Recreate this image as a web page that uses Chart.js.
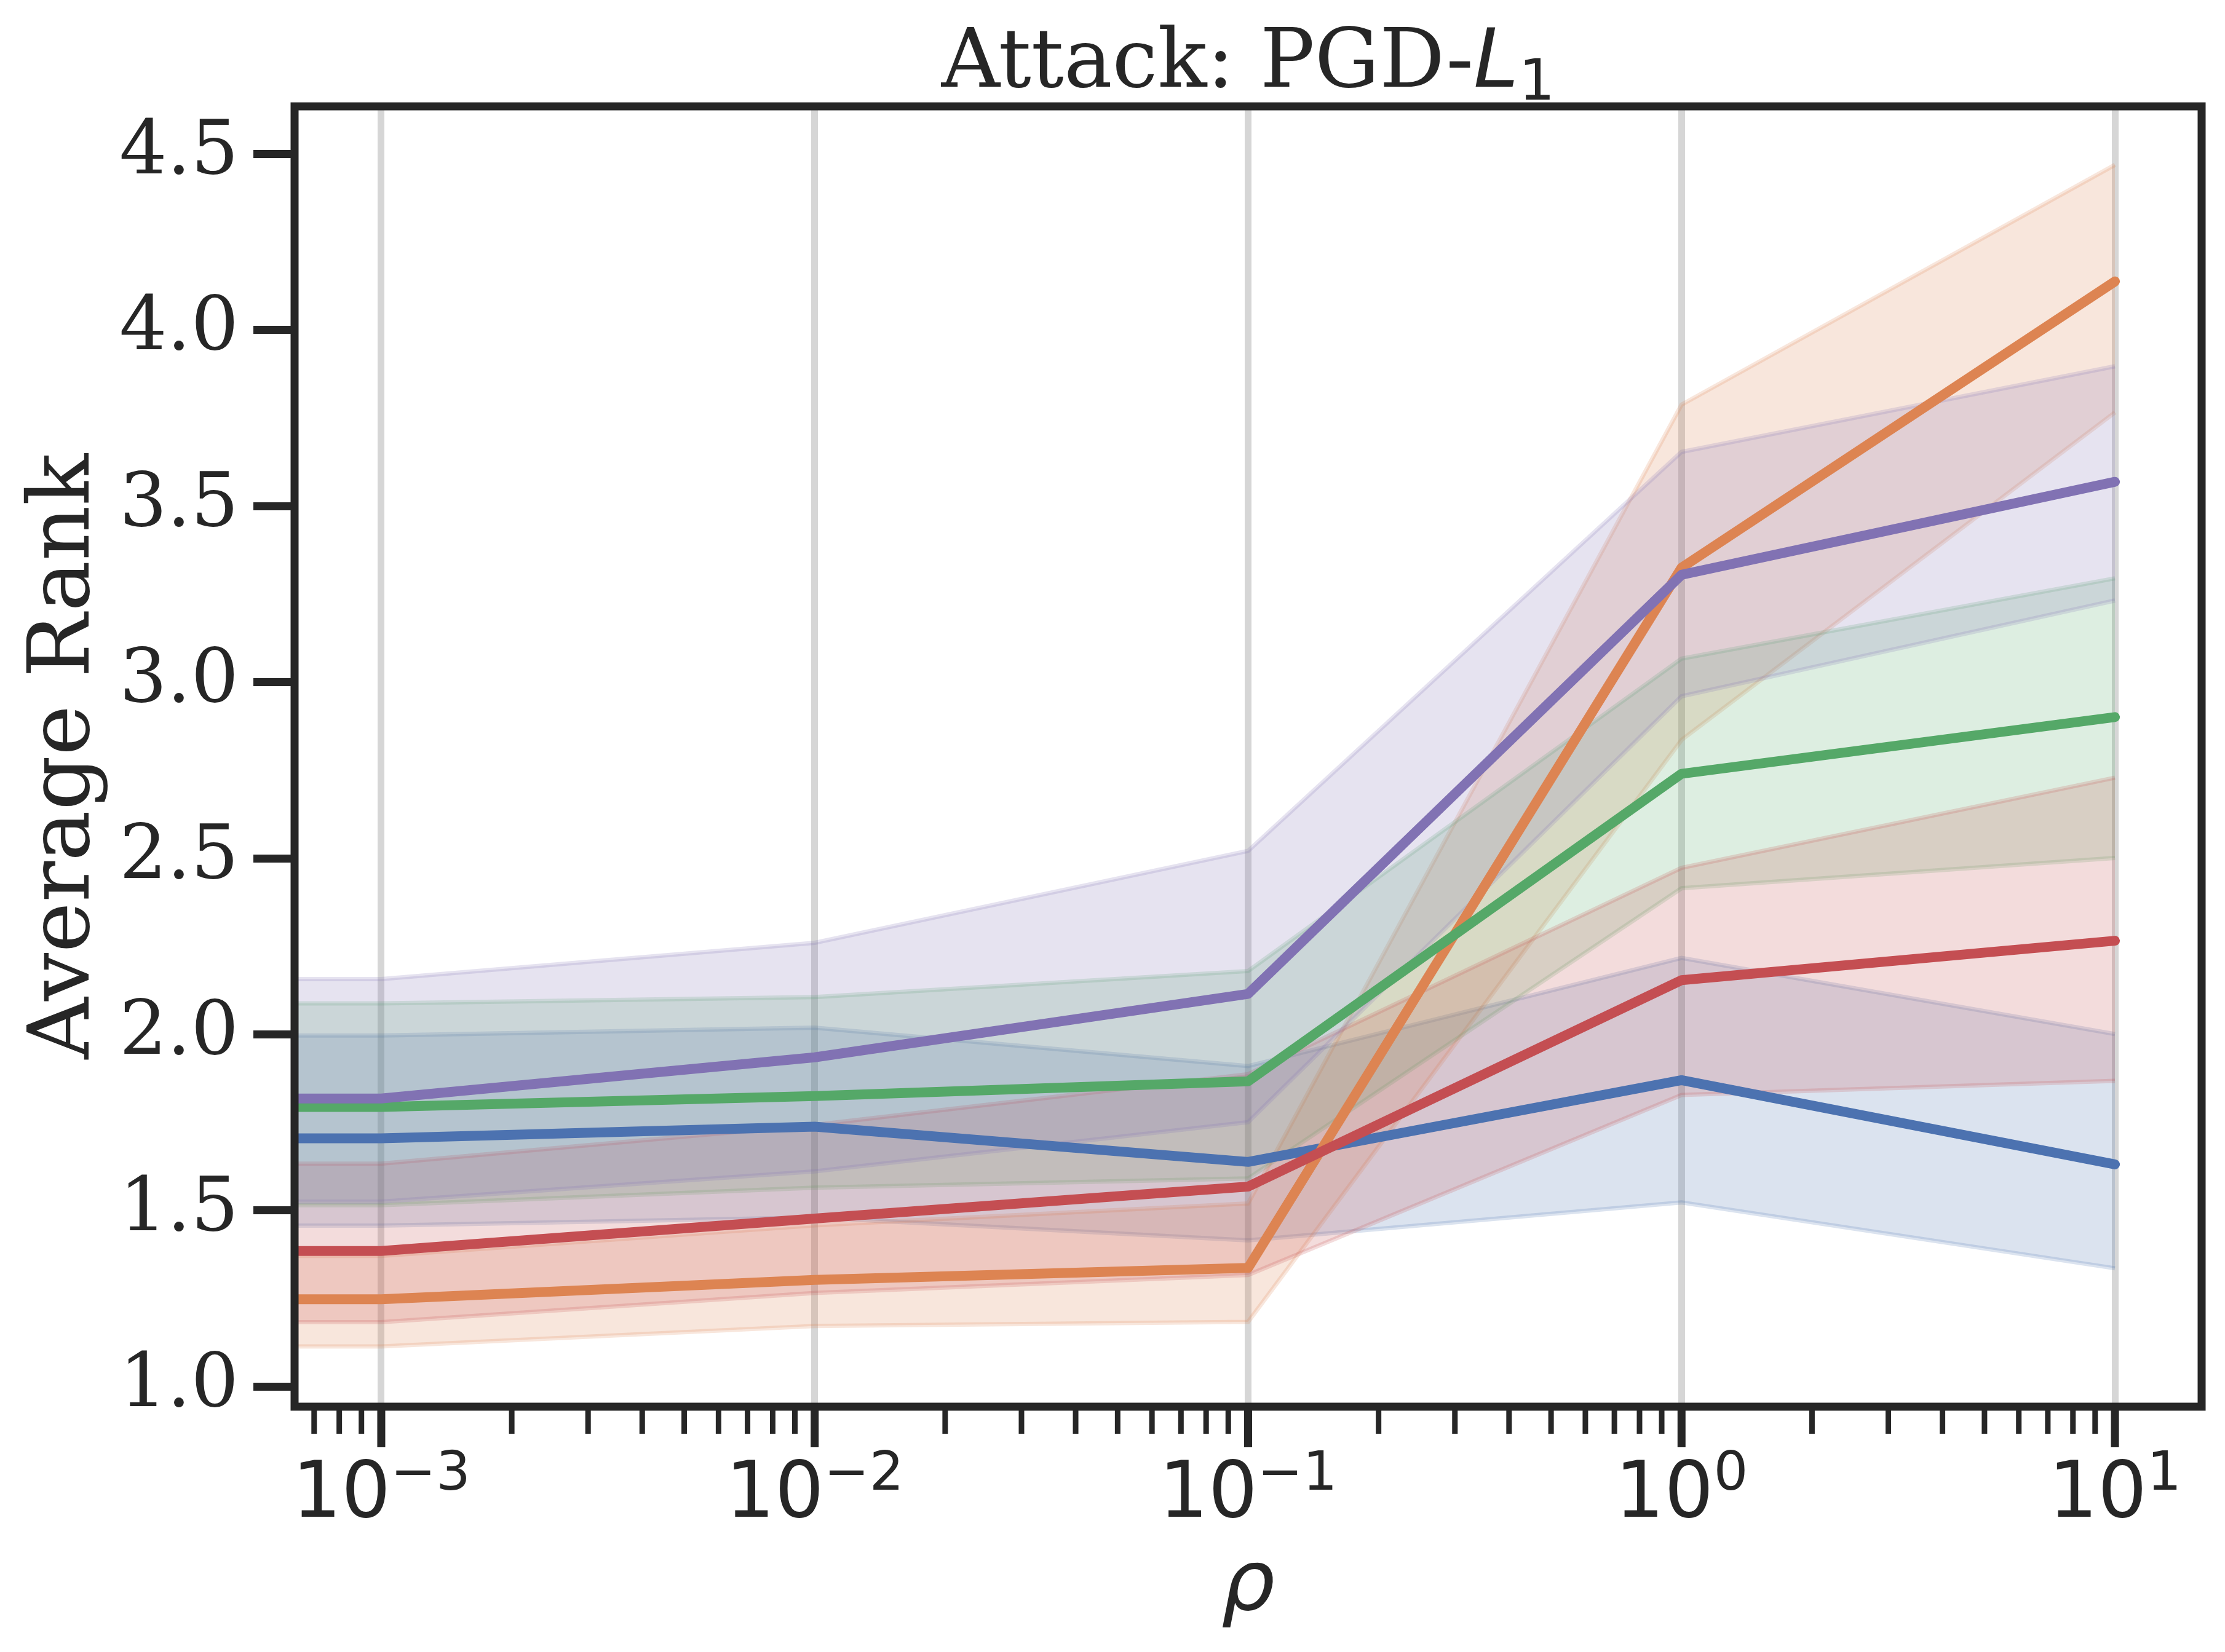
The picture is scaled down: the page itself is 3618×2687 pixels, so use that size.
<!DOCTYPE html>
<html><head><meta charset="utf-8">
<script src="https://cdn.jsdelivr.net/npm/chart.js@4.4.0/dist/chart.umd.min.js"></script>
<style>html,body{margin:0;padding:0;background:#fff}canvas{display:block}</style>
</head><body>
<canvas id="c" width="3618" height="2687"></canvas>
<script>
// rho values (first point lies left of the visible range; line enters flat from the left edge)
const rho = [1e-4, 1e-3, 1e-2, 1e-1, 1, 10];
const xMajorTicks = [1e-3, 1e-2, 1e-1, 1, 10];
const xTickExponents = ['\u22123', '\u22122', '\u22121', '0', '1'];
const yTicks = [1.0, 1.5, 2.0, 2.5, 3.0, 3.5, 4.0, 4.5];

const seriesNames = ['blue', 'orange', 'green', 'red', 'purple'];
const seriesColors = [[76,114,176],[221,132,82],[85,168,104],[196,78,82],[129,114,179]];

const blueMean   = [1.705, 1.705, 1.738, 1.638, 1.870, 1.631];
const blueLow    = [1.457, 1.457, 1.480, 1.415, 1.523, 1.336];
const blueHigh   = [1.997, 1.997, 2.019, 1.910, 2.217, 2.001];

const orangeMean = [1.248, 1.248, 1.303, 1.337, 3.325, 4.138];
const orangeLow  = [1.114, 1.114, 1.172, 1.184, 2.836, 3.766];
const orangeHigh = [1.371, 1.371, 1.458, 1.520, 3.788, 4.469];

const greenMean  = [1.794, 1.794, 1.825, 1.867, 2.740, 2.901];
const greenLow   = [1.515, 1.515, 1.565, 1.591, 2.415, 2.501];
const greenHigh  = [2.088, 2.088, 2.106, 2.180, 3.067, 3.295];

const redMean    = [1.385, 1.385, 1.477, 1.568, 2.154, 2.266];
const redLow     = [1.183, 1.183, 1.266, 1.317, 1.828, 1.868];
const redHigh    = [1.633, 1.633, 1.743, 1.887, 2.473, 2.729];

const purpleMean = [1.818, 1.818, 1.935, 2.115, 3.305, 3.569];
const purpleLow  = [1.525, 1.525, 1.611, 1.751, 2.960, 3.232];
const purpleHigh = [2.157, 2.157, 2.260, 2.521, 3.654, 3.897];

const means = [blueMean, orangeMean, greenMean, redMean, purpleMean];
const lows  = [blueLow, orangeLow, greenLow, redLow, purpleLow];
const highs = [blueHigh, orangeHigh, greenHigh, redHigh, purpleHigh];

const X_MIN = Math.pow(10, -3.2), X_MAX = Math.pow(10, 1.2);
const Y_MIN = 0.943, Y_MAX = 4.635;

const INK = '#262626';
const rgba = (c, a) => `rgba(${c[0]},${c[1]},${c[2]},${a})`;
const pts = arr => rho.map((r, i) => ({x: r, y: arr[i]}));

const datasets = [];
seriesNames.forEach((name, i) => {
  const c = seriesColors[i];
  datasets.push({label: name + ' low', data: pts(lows[i]), borderColor: rgba(c, 0.2), borderWidth: 7,
    pointRadius: 0, fill: false, order: 200 - i, tension: 0});
  datasets.push({label: name + ' high', data: pts(highs[i]), borderColor: rgba(c, 0.2), borderWidth: 7,
    backgroundColor: rgba(c, 0.2), pointRadius: 0, fill: '-1', order: 200 - i, tension: 0});
});
seriesNames.forEach((name, i) => {
  const c = seriesColors[i];
  datasets.push({label: name, data: pts(means[i]), borderColor: rgba(c, 1), borderWidth: 16,
    pointRadius: 0, fill: false, order: 5 - i, tension: 0, borderCapStyle: 'round', borderJoinStyle: 'round'});
});

const decor = {
  id: 'decor',
  afterDraw(chart) {
    const {ctx, chartArea: a, scales: {x, y}} = chart;
    ctx.save();
    ctx.strokeStyle = INK; ctx.lineCap = 'butt';
    const lo = Math.floor(Math.log10(x.min)), hi = Math.ceil(Math.log10(x.max));
    for (let n = lo; n <= hi; n++) {
      for (let k = 1; k < 10; k++) {
        const v = k * Math.pow(10, n);
        if (v < x.min || v > x.max) continue;
        const px = x.getPixelForValue(v);
        const major = k === 1;
        ctx.lineWidth = major ? 13 : 9;
        ctx.beginPath(); ctx.moveTo(px, a.bottom); ctx.lineTo(px, a.bottom + (major ? 66 : 44)); ctx.stroke();
      }
    }
    // frame
    ctx.lineWidth = 13; ctx.lineJoin = 'miter';
    ctx.strokeRect(a.left, a.top, a.right - a.left, a.bottom - a.top);

    ctx.fillStyle = INK; ctx.textBaseline = 'alphabetic'; ctx.textAlign = 'left';
    // x tick labels 10^n
    xMajorTicks.forEach((v, i) => {
      const px = x.getPixelForValue(v);
      ctx.font = '126px "DejaVu Sans"'; const wb = ctx.measureText('10').width;
      ctx.font = '88px "DejaVu Sans"'; const we = ctx.measureText(xTickExponents[i]).width;
      const x0 = px - (wb + we) / 2;
      ctx.font = '126px "DejaVu Sans"'; ctx.fillText('10', x0, a.bottom + 179);
      ctx.font = '88px "DejaVu Sans"'; ctx.fillText(xTickExponents[i], x0 + wb, a.bottom + 135);
    });
    // title
    const cx = (a.left + a.right) / 2;
    const parts = [
      {t: 'Attack: PGD-', f: '132px "DejaVu Serif"', dy: 0},
      {t: 'L', f: 'italic 132px "DejaVu Sans"', dy: 0},
      {t: '1', f: '92px "DejaVu Sans"', dy: 21}
    ];
    let tw = 0;
    parts.forEach(p => { ctx.font = p.f; p.w = ctx.measureText(p.t).width; tw += p.w; });
    let tx = cx - tw / 2;
    parts.forEach(p => { ctx.font = p.f; ctx.fillText(p.t, tx, a.top - 32 + p.dy); tx += p.w; });
    // x label
    ctx.textAlign = 'center';
    ctx.font = 'italic 138px "DejaVu Sans"';
    ctx.fillText('\u03c1', cx, a.bottom + 330);
    // y label
    ctx.save();
    ctx.translate(144, (a.top + a.bottom) / 2);
    ctx.rotate(-Math.PI / 2);
    ctx.font = '139px "DejaVu Serif"';
    ctx.fillText('Average Rank', 0, 0);
    ctx.restore();
    ctx.restore();
  }
};

new Chart(document.getElementById('c').getContext('2d'), {
  type: 'line',
  data: {datasets},
  options: {
    responsive: false, animation: false, devicePixelRatio: 1,
    layout: {padding: {left: 0, top: 173, right: 38, bottom: 0}},
    plugins: {legend: {display: false}, tooltip: {enabled: false}, title: {display: false}},
    elements: {point: {radius: 0}, line: {tension: 0}},
    scales: {
      x: {
        type: 'logarithmic', min: X_MIN, max: X_MAX, bounds: 'data',
        afterBuildTicks: s => { s.ticks = xMajorTicks.map(v => ({value: v, major: true})); s.min = X_MIN; s.max = X_MAX; },
        afterFit: s => { s.height = 399; },
        ticks: {display: false},
        grid: {display: true, drawOnChartArea: true, drawTicks: false, color: '#d6d6d6', lineWidth: 11},
        border: {display: false}
      },
      y: {
        type: 'linear', min: Y_MIN, max: Y_MAX, bounds: 'data',
        afterBuildTicks: s => { s.ticks = yTicks.map(v => ({value: v})); s.min = Y_MIN; s.max = Y_MAX; },
        afterFit: s => { s.width = 479; },
        ticks: {font: {family: 'DejaVu Serif', size: 122}, color: INK, padding: 24,
          callback: v => Number(v).toFixed(1)},
        grid: {drawOnChartArea: false, drawTicks: true, tickLength: 67, tickWidth: 13, tickColor: INK},
        border: {display: false}
      }
    }
  },
  plugins: [decor]
});
</script>
</body></html>
